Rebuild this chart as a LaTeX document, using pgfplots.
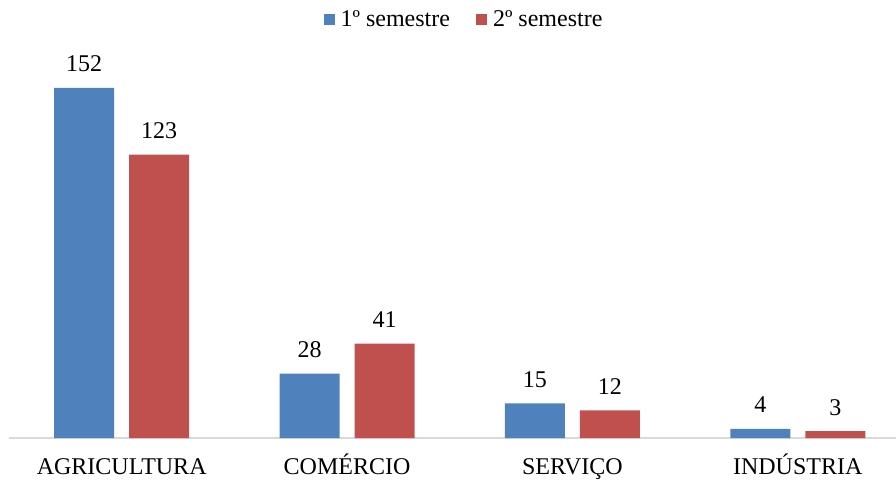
\documentclass[border=0pt]{standalone}
\usepackage{pgfplots}
\pgfplotsset{compat=1.18}
\usepackage{fontspec}
\setmainfont{Liberation Serif}
\definecolor{cblue}{HTML}{4F81BD}
\definecolor{cred}{HTML}{C0504D}
\definecolor{cgrid}{HTML}{D9D9D9}
\begin{document}
\begin{tikzpicture}
\useasboundingbox (0,0) rectangle (896pt,483pt);
\begin{axis}[
  at={(9pt,45pt)}, anchor=south west,
  scale only axis, width=887pt, height=437.6pt,
  xmin=-0.5, xmax=3.436, ymin=0, ymax=190,
  ybar=15pt, bar width=60pt,
  axis x line=bottom, axis y line=none,
  x axis line style={draw=cgrid, line width=1.2pt, -},
  xtick={0,1,2,3},
  xticklabels={AGRICULTURA, COMÉRCIO, SERVIÇO, INDÚSTRIA},
  major tick length=0pt,
  xticklabel style={anchor=base, yshift=-36pt, font=\fontsize{24}{28}\selectfont, text=black},
  /pgf/number format/assume math mode=true,
  nodes near coords,
  nodes near coords style={anchor=base, yshift=16pt, font=\fontsize{24}{28}\selectfont, text=black},
  legend columns=2,
  legend style={at={(0.513,0.9563)}, anchor=center, draw=none, fill=none,
    font=\fontsize{24}{28}\selectfont,
    /tikz/every odd column/.append style={column sep=4pt},
    /tikz/every even column/.append style={column sep=24pt}},
  legend image code/.code={\fill[#1] (0pt,-5.5pt) rectangle (11pt,5.5pt);},
]
\addplot[fill=cblue, draw=none] coordinates {(0,152) (1,28) (2,15) (3,4)};
\addplot[fill=cred, draw=none] coordinates {(0,123) (1,41) (2,12) (3,3)};
\legend{1º semestre, 2º semestre}
\end{axis}
\end{tikzpicture}
\end{document}
